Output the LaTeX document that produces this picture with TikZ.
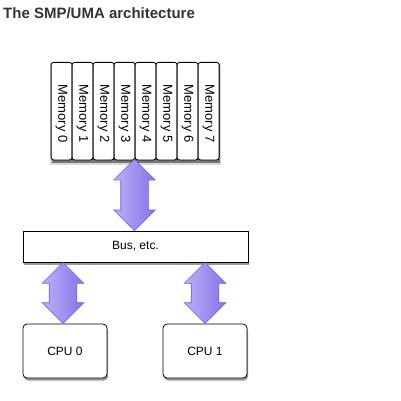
\documentclass[tikz,border=0pt]{standalone}
\usepackage{fontspec}
\setmainfont{Liberation Sans}
\usetikzlibrary{shapes.arrows,shadows,calc}
\definecolor{titlegray}{HTML}{333333}
\definecolor{arrowlight}{HTML}{B9B0F7}
\definecolor{arrowdark}{HTML}{8574E9}
\definecolor{arrowline}{HTML}{6E5CE8}
\tikzset{
  boxshadow/.style={drop shadow={shadow xshift=1pt,shadow yshift=-2.5pt,opacity=0.4,fill=black}},
  membox/.style={draw=black,line width=0.8pt,fill=white,rounded corners=2.5pt,inner sep=0pt,minimum width=21pt,minimum height=97.5pt},
  memtext/.style={font=\fontsize{13}{15}\selectfont,rotate=-90,inner sep=0pt,anchor=west},
  busbox/.style={draw=black,line width=0.8pt,fill=white,inner sep=0pt,boxshadow,font=\fontsize{12}{14}\selectfont},
  cpubox/.style={draw=black,line width=0.8pt,fill=white,rounded corners=4pt,inner sep=0pt,minimum width=84pt,minimum height=54pt,boxshadow,font=\fontsize{12}{14}\selectfont},
  dblarrow/.style={double arrow,draw=arrowline,line width=0.6pt,inner xsep=0pt,inner ysep=13.5pt,
    double arrow head extend=7pt,double arrow tip angle=90,
    shading=axis,shading angle=90,left color=arrowlight,right color=arrowdark}
}
\begin{document}
\begin{tikzpicture}[x=1pt,y=-1pt]
\useasboundingbox (0,0) rectangle (401,401);
\node[anchor=base west,inner sep=0pt,text=titlegray,font=\fontsize{15}{18}\selectfont\bfseries] (title) at (3,19) {The SMP/UMA architecture};
% memory shadow
\fill[black,opacity=0.15] (49.5,63) rectangle (221,165);
\fill[black,opacity=0.45] (51.5,64.5) rectangle (219.5,162.5);
\foreach \i in {0,...,7}{
  \node[membox,anchor=north west] (m\i) at (50.7+21*\i,62) {};
  \node[memtext] (mt\i) at ($(m\i.north)+(0,22.5)$) {Memory \i};
}
\coordinate (memb) at (134.5,159.5);
\node[busbox,minimum width=225pt,minimum height=31pt] (bus) at (135.5,246.5) {Bus, etc.};
\node[cpubox] (cpu0) at (65,351) {CPU 0};
\node[cpubox] (cpu1) at (205,351) {CPU 1};
\node[dblarrow,minimum height=71.5pt,rotate=90] (a0) at ($(memb)!0.5!(bus.north -| memb)$) {};
\node[dblarrow,minimum height=61pt,rotate=90] (a1) at ($(bus.south -| 63,0)!0.5!(cpu0.north -| 63,0)$) {};
\node[dblarrow,minimum height=61pt,rotate=90] (a2) at ($(bus.south -| cpu1)!0.5!(cpu1.north)$) {};
\end{tikzpicture}
\end{document}
